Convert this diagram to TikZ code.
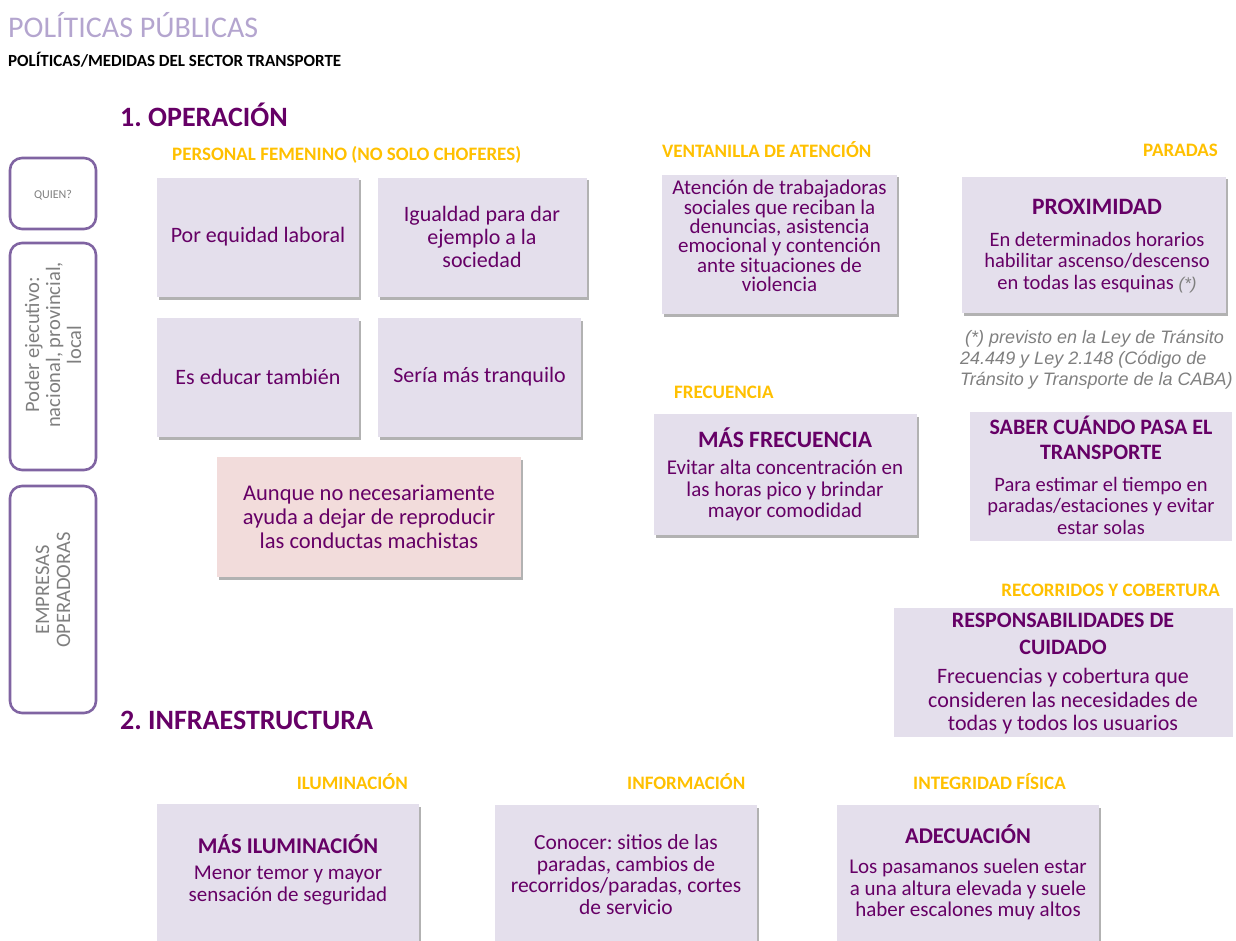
\documentclass[tikz,border=0pt]{standalone}
\usepackage{fontspec}
\setmainfont{Carlito}
\newfontfamily\arialf{Liberation Sans}
\usetikzlibrary{shadows}
\definecolor{dpurple}{HTML}{660066}
\definecolor{ltpurple}{HTML}{B4A5CF}
\definecolor{hdrorange}{HTML}{FFC000}
\definecolor{boxfill}{HTML}{E4DFEC}
\definecolor{pinkfill}{HTML}{F2DCDB}
\definecolor{frame}{HTML}{8064A2}
\definecolor{txtgray}{HTML}{7F7F7F}
\newcommand\fsz[2]{\fontsize{#1}{#2}\selectfont}
\frenchspacing
\begin{document}
\begin{tikzpicture}[x=1pt,y=-1pt,
 card/.style={fill=boxfill, inner sep=0pt, drop shadow={shadow xshift=1.5pt, shadow yshift=-2.5pt, opacity=0.3, fill=black}},
 pinkcard/.style={card, fill=pinkfill},
 flat/.style={fill=boxfill, inner sep=0pt},
 sidebox/.style={draw=frame, line width=2.6pt, rounded corners=12pt, inner sep=0pt, minimum width=86pt},
 hdr/.style={text=hdrorange, font=\bfseries\fsz{19}{22}, inner sep=0pt},
 body/.style={text=dpurple, align=center, inner sep=0pt},
 ttl/.style={text=dpurple, align=center, inner sep=0pt, font=\bfseries\fsz{23.5}{27}},
 sect/.style={text=dpurple, font=\bfseries\fsz{28}{32}, anchor=west, inner sep=0pt},
 side/.style={text=txtgray, align=center, rotate=90, inner sep=0pt, font=\fsz{20.5}{21}},
]
\useasboundingbox (0,0) rectangle (1236,941);
\clip (0,0) rectangle (1236,941);

% titles
\node[anchor=west, inner sep=0pt, text=ltpurple, font=\fsz{30}{34}] (title) at (8,25) {POLÍTICAS PÚBLICAS};
\node[anchor=west, inner sep=0pt, text=black, font=\bfseries\fsz{17}{20}] (subtitle) at (8,60) {POLÍTICAS/MEDIDAS DEL SECTOR TRANSPORTE};
\node[sect] (sec1) at (120,115) {1. OPERACIÓN};
\node[sect] (sec2) at (120,720) {2. INFRAESTRUCTURA};

% side boxes
\node[sidebox, minimum height=71pt] (quien) at (53,193.5) {};
\node[text=txtgray, inner sep=0pt, font=\fsz{12}{14}] (quient) at (53,195) {QUIEN?};
\node[sidebox, minimum height=227pt] (poder) at (53,356.5) {};
\node[side] (podert) at (53,345) {Poder ejecutivo:\\nacional, provincial,\\local};
\node[sidebox, minimum height=227pt] (emp) at (53,599.5) {};
\node[side] (empt) at (53,590) {EMPRESAS\\OPERADORAS};

% headers
\node[hdr, anchor=west] (h1) at (172,155) {PERSONAL FEMENINO (NO SOLO CHOFERES)};
\node[hdr, anchor=west] (h2) at (662,150) {VENTANILLA DE ATENCIÓN};
\node[hdr, anchor=east] (h3) at (1218,150) {PARADAS};
\node[hdr, anchor=west] (h4) at (674,392) {FRECUENCIA};
\node[hdr, anchor=east] (h5) at (1220,590) {RECORRIDOS Y COBERTURA};
\node[hdr, anchor=east] (h6) at (408,782) {ILUMINACIÓN};
\node[hdr, anchor=west] (h7) at (627,782) {INFORMACIÓN};
\node[hdr, anchor=west] (h8) at (913,782) {INTEGRIDAD FÍSICA};

% personal femenino boxes
\node[card, minimum width=202pt, minimum height=119pt] (b1) at (258,237.5) {};
\node[body, font=\fsz{22}{23}] (b1t) at (258,237) {Por equidad laboral};
\node[card, minimum width=209pt, minimum height=119pt] (b2) at (482.5,237.5) {};
\node[body, font=\fsz{22}{23}] (b2t) at (482,237) {Igualdad para dar\\ejemplo a la\\sociedad};
\node[card, minimum width=202pt, minimum height=119pt] (b3) at (258,377.5) {};
\node[body, font=\fsz{22}{23}] (b3t) at (258,377) {Es educar también};
\node[card, minimum width=203pt, minimum height=119pt] (b4) at (479.5,377.5) {};
\node[body, font=\fsz{22}{23}] (b4t) at (479.5,377) {Sería más tranquilo};
\node[pinkcard, minimum width=304pt, minimum height=120pt] (b5) at (369,517) {};
\node[body, font=\fsz{22.5}{24}] (b5t) at (369,517) {Aunque no necesariamente\\ayuda a dejar de reproducir\\las conductas machistas};

% ventanilla
\node[card, minimum width=235pt, minimum height=139pt] (vent) at (779.5,244.5) {};
\node[body, font=\fsz{21}{19.4}] (ventt) at (779.5,236) {Atención de trabajadoras\\sociales que reciban la\\denuncias, asistencia\\emocional y contención\\ante situaciones de\\violencia};

% paradas
\node[card, minimum width=264pt, minimum height=136pt] (prox) at (1094,245) {};
\node[ttl] (proxh) at (1097,207) {PROXIMIDAD};
\node[body, font=\fsz{20.5}{21.5}] (proxt) at (1097,262.5) {En determinados horarios\\habilitar ascenso/descenso\\en todas las esquinas {\arialf\itshape\color{txtgray}\fsz{17}{21.5}(*)}};
\node[anchor=west, align=left, inner sep=0pt, text=txtgray, font=\arialf\itshape\fsz{18}{21}] (foot) at (960,360) {\ (*) previsto en la Ley de Tránsito\\24.449 y Ley 2.148 (Código de\\Tránsito y Transporte de la CABA)};

% frecuencia
\node[card, minimum width=263pt, minimum height=121pt] (freq) at (785.5,474.5) {};
\node[ttl] (freqh) at (785,438) {MÁS FRECUENCIA};
\node[body, font=\fsz{21}{21.5}] (freqt) at (785,490.5) {Evitar alta concentración en\\las horas pico y brindar\\mayor comodidad};

% saber
\node[flat, minimum width=262pt, minimum height=129pt] (saber) at (1101,476.5) {};
\node[ttl, font=\bfseries\fsz{22}{25}] (saberh) at (1101,437.5) {SABER CUÁNDO PASA EL\\TRANSPORTE};
\node[body, font=\fsz{20.5}{21.5}] (sabert) at (1101,505.5) {Para estimar el tiempo en\\paradas/estaciones y evitar\\estar solas};

% recorridos
\node[flat, minimum width=339pt, minimum height=129pt] (resp) at (1063.5,672.5) {};
\node[ttl, font=\bfseries\fsz{22}{27}] (resph) at (1063,633.5) {RESPONSABILIDADES DE\\CUIDADO};
\node[body, font=\fsz{22}{23.5}] (respt) at (1063,701.5) {Frecuencias y cobertura que\\consideren las necesidades de\\todas y todos los usuarios};

% infraestructura
\node[card, minimum width=262pt, minimum height=156pt] (ilum) at (288,882) {};
\node[ttl, font=\bfseries\fsz{22.5}{27}] (ilumh) at (288,844) {MÁS ILUMINACIÓN};
\node[body, font=\fsz{21}{22}] (ilumt) at (288,886) {Menor temor y mayor\\sensación de seguridad};
\node[card, minimum width=262pt, minimum height=155pt] (info) at (626,882.5) {};
\node[body, font=\fsz{21.5}{21.7}] (infot) at (626,874.5) {Conocer: sitios de las\\paradas, cambios de\\recorridos/paradas, cortes\\de servicio};
\node[card, minimum width=262pt, minimum height=155pt] (adec) at (968,882.5) {};
\node[ttl, font=\bfseries\fsz{22.5}{27}] (adech) at (968,834) {ADECUACIÓN};
\node[body, font=\fsz{21}{21.5}] (adect) at (968,889.5) {Los pasamanos suelen estar\\a una altura elevada y suele\\haber escalones muy altos};
\end{tikzpicture}
\end{document}
